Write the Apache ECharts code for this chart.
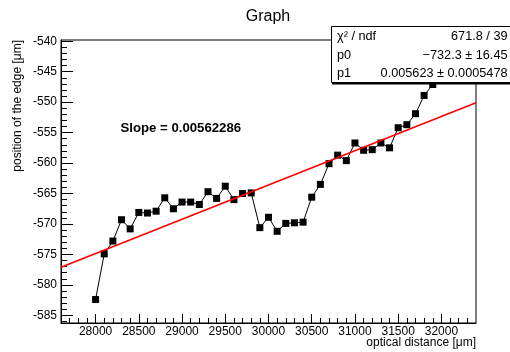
<!DOCTYPE html>
<html>
<head>
<meta charset="utf-8">
<script src="https://cdn.jsdelivr.net/npm/echarts@6/dist/echarts.min.js"></script>
<style>
html,body{margin:0;padding:0;background:#fff;}
#chart{width:510px;height:352px;}
</style>
</head>
<body>
<div id="chart"></div>
<script>
// ---- data ----
const xValues = [28000,28100,28200,28300,28400,28500,28600,28700,28800,28900,
                 29000,29100,29200,29300,29400,29500,29600,29700,29800,29900,
                 30000,30100,30200,30300,30400,30500,30600,30700,30800,30900,
                 31000,31100,31200,31300,31400,31500,31600,31700,31800,31900,32000];
const yValues = [-582.4,-574.9,-572.8,-569.3,-570.8,-568.1,-568.2,-567.9,-565.7,-567.5,
                 -566.4,-566.4,-566.8,-564.7,-565.8,-563.8,-566.0,-565.0,-564.9,-570.6,
                 -568.9,-571.2,-569.9,-569.8,-569.7,-565.6,-563.5,-560.1,-558.7,-559.6,
                 -556.7,-557.9,-557.8,-556.7,-557.5,-554.2,-553.7,-551.9,-548.9,-547.1,-543.5];
// fit line end points (pol1: p0 + p1*x)
const fitX = [27600, 32400];
const fitY = [-577.1, -550.1];
// tick labels
const xMajorTicks = [28000,28500,29000,29500,30000,30500,31000,31500,32000];
const yMajorTicks = [-585,-580,-575,-570,-565,-560,-555,-550,-545,-540];
const xMinorTicks = [];
for (let v = 27700; v <= 32300; v += 100) xMinorTicks.push(v);
const yMinorTicks = [];
for (let v = -586; v <= -540; v += 1) yMinorTicks.push(v);
const statsRows = [["χ² / ndf", "671.8 / 39"], ["p0", "−732.3 ± 16.45"], ["p1", "0.005623 ± 0.0005478"]];
const titleText = "Graph";
const slopeText = "Slope = 0.00562286";
const xTitle = "optical distance [μm]";
const yTitle = "position of the edge [μm]";

const FONT = "'Liberation Sans', Arial, Helvetica, sans-serif";
const X_MIN = 27600, X_MAX = 32400, Y_MIN = -586.25, Y_MAX = -539.8;

const chart = echarts.init(document.getElementById('chart'), null, {renderer: 'canvas'});

const pts = xValues.map((x, i) => [x, yValues[i]]);
const fitPts = fitX.map((x, i) => [x, fitY[i]]);

const statsGraphics = [];
statsGraphics.push({
  type: 'rect', z: 100,
  shape: {x: 331.5, y: 26.5, width: 190, height: 56},
  style: {fill: '#fff', stroke: '#000', lineWidth: 1}
});
statsGraphics.push({
  type: 'rect', z: 100,
  shape: {x: 332, y: 83, width: 190, height: 1.5},
  style: {fill: '#000'}
});
const rowY = [36.5, 55, 73.5];
statsRows.forEach((r, i) => {
  statsGraphics.push({type: 'text', z: 101, style: {text: r[0], x: 337, y: rowY[i], font: '12.7px ' + FONT, fill: '#000', textAlign: 'left', textVerticalAlign: 'middle'}});
  statsGraphics.push({type: 'text', z: 101, style: {text: r[1], x: 507.5, y: rowY[i], font: '12.7px ' + FONT, fill: '#000', textAlign: 'right', textVerticalAlign: 'middle'}});
});

const plainNum = v => String(v);

const option = {
  animation: false,
  backgroundColor: '#fff',
  grid: {left: 61, top: 40, right: 34, bottom: 29, show: true, borderColor: '#000', borderWidth: 1, backgroundColor: 'transparent', containLabel: false},
  xAxis: [
    {
      type: 'value', min: X_MIN, max: X_MAX, position: 'bottom',
      axisLine: {show: true, lineStyle: {color: '#000', width: 1}},
      axisTick: {show: true, inside: true, length: 9, customValues: xMajorTicks, lineStyle: {color: '#000', width: 1}},
      axisLabel: {show: true, customValues: xMajorTicks, formatter: plainNum, color: '#000', fontSize: 12, fontFamily: FONT, margin: 3},
      splitLine: {show: false}
    },
    {
      type: 'value', min: X_MIN, max: X_MAX, position: 'bottom',
      axisLine: {show: false},
      axisTick: {show: true, inside: true, length: 5, customValues: xMinorTicks, lineStyle: {color: '#000', width: 1}},
      axisLabel: {show: false},
      splitLine: {show: false}
    }
  ],
  yAxis: [
    {
      type: 'value', min: Y_MIN, max: Y_MAX, position: 'left',
      axisLine: {show: true, lineStyle: {color: '#000', width: 1}},
      axisTick: {show: true, inside: true, length: 12, customValues: yMajorTicks, lineStyle: {color: '#000', width: 1}},
      axisLabel: {show: true, customValues: yMajorTicks, formatter: plainNum, color: '#000', fontSize: 12, fontFamily: FONT, margin: 4},
      splitLine: {show: false}
    },
    {
      type: 'value', min: Y_MIN, max: Y_MAX, position: 'left',
      axisLine: {show: false},
      axisTick: {show: true, inside: true, length: 6, customValues: yMinorTicks, lineStyle: {color: '#000', width: 1}},
      axisLabel: {show: false},
      splitLine: {show: false}
    }
  ],
  series: [
    {
      type: 'line', data: pts, xAxisIndex: 0, yAxisIndex: 0,
      symbol: 'rect', symbolSize: 7, showSymbol: true,
      itemStyle: {color: '#000'},
      lineStyle: {color: '#000', width: 1},
      z: 3, silent: true
    },
    {
      type: 'line', data: fitPts, xAxisIndex: 0, yAxisIndex: 0,
      symbol: 'none', lineStyle: {color: '#ff0000', width: 1.6},
      z: 4, silent: true
    }
  ],
  graphic: [
    {type: 'text', style: {text: titleText, x: 268, y: 16.5, font: '16px ' + FONT, fill: '#000', textAlign: 'center', textVerticalAlign: 'middle'}},
    {type: 'text', style: {text: slopeText, x: 120.5, y: 128.5, font: 'bold 13.2px ' + FONT, fill: '#000', textAlign: 'left', textVerticalAlign: 'middle'}},
    {type: 'text', style: {text: xTitle, x: 476, y: 343, font: '12px ' + FONT, fill: '#000', textAlign: 'right', textVerticalAlign: 'middle'}},
    {type: 'text', x: 18, y: 40, rotation: Math.PI / 2, style: {text: yTitle, x: 0, y: 0, font: '12px ' + FONT, fill: '#000', textAlign: 'right', textVerticalAlign: 'middle'}}
  ].concat(statsGraphics)
};
chart.setOption(option);
</script>
</body>
</html>
